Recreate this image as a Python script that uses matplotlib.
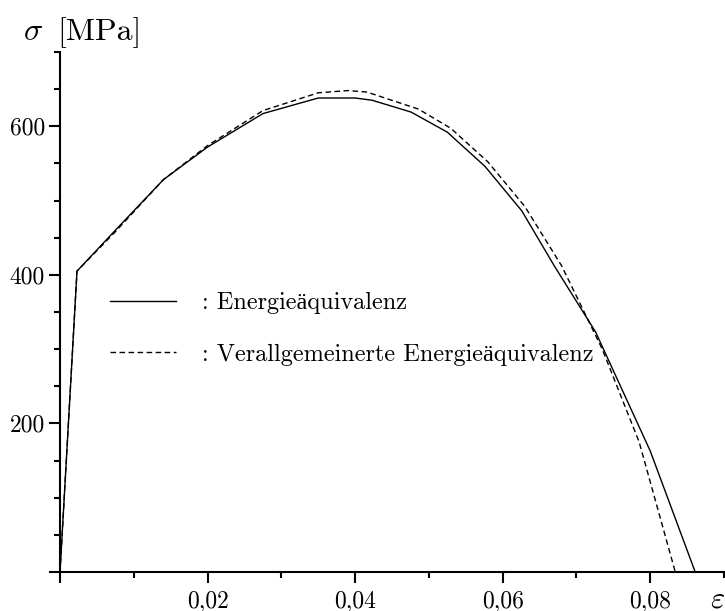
import matplotlib
matplotlib.use("Agg")
import matplotlib.pyplot as plt
from matplotlib.ticker import MultipleLocator

plt.rcParams['font.family'] = ['cmr10', 'Liberation Serif']
plt.rcParams['mathtext.fontset'] = 'cm'
plt.rcParams['axes.formatter.use_mathtext'] = True

# Energieäquivalenz (solid)
eps_energie = [0, 0.0023, 0.0075, 0.014, 0.020, 0.0275, 0.035, 0.040, 0.0423,
               0.0476, 0.0525, 0.0576, 0.0626, 0.067, 0.0726, 0.080, 0.0861]
sig_energie = [0, 405, 460, 528, 572, 617, 638, 638, 635,
               619, 592, 546, 486, 412, 323, 163, 0]

# Verallgemeinerte Energieäquivalenz (dashed)
eps_verallg = [0, 0.0023, 0.0075, 0.014, 0.020, 0.0275, 0.035, 0.039, 0.0416,
               0.0486, 0.053, 0.058, 0.063, 0.068, 0.0735, 0.0785, 0.0834]
sig_verallg = [0, 405, 458, 528, 574, 621, 645, 648, 646,
               623, 597, 552, 492, 412, 300, 175, 0]

x_ticks = [0.02, 0.04, 0.06, 0.08]
x_labels = ['0,02', '0,04', '0,06', '0,08']
y_ticks = [200, 400, 600]
y_labels = ['200', '400', '600']

fig = plt.figure(figsize=(7.25, 6.11), dpi=100)
ax = fig.add_axes([0.0828, 0.0638, 0.9158, 0.8512])

ax.plot(eps_energie, sig_energie, color='black', lw=1.0,
        label=': Energieäquivalenz')
ax.plot(eps_verallg, sig_verallg, color='black', lw=1.0, ls=(0, (4, 2.5)),
        label=': Verallgemeinerte Energieäquivalenz')

ax.set_xlim(0, 0.09)
ax.set_ylim(0, 700)

for s in ['top', 'right']:
    ax.spines[s].set_visible(False)
for s in ['left', 'bottom']:
    ax.spines[s].set_linewidth(1.5)

ax.set_xticks([0] + x_ticks)
ax.set_xticklabels([''] + x_labels)
ax.set_yticks([0] + y_ticks)
ax.set_yticklabels([''] + y_labels)
ax.xaxis.set_minor_locator(MultipleLocator(0.01))
ax.yaxis.set_minor_locator(MultipleLocator(50))
ax.tick_params(which='major', direction='out', length=8, width=1.5,
               labelsize=17, pad=3)
ax.tick_params(which='minor', direction='out', length=4.5, width=1.5)
ax.tick_params(axis='x', pad=5)

fig.text(0.032, 0.935, r'$\sigma$', fontsize=23)
fig.text(0.079, 0.935, '[MPa]', fontsize=23)
fig.text(0.98, 0.005, r'$\varepsilon$', fontsize=22)

ax.legend(loc='upper left', bbox_to_anchor=(0.0753, 0.538), frameon=False,
          fontsize=17.5, handlelength=2.72, handletextpad=1.07, labelspacing=1.2,
          borderpad=0, borderaxespad=0)

fig.savefig('out.png', dpi=100)
